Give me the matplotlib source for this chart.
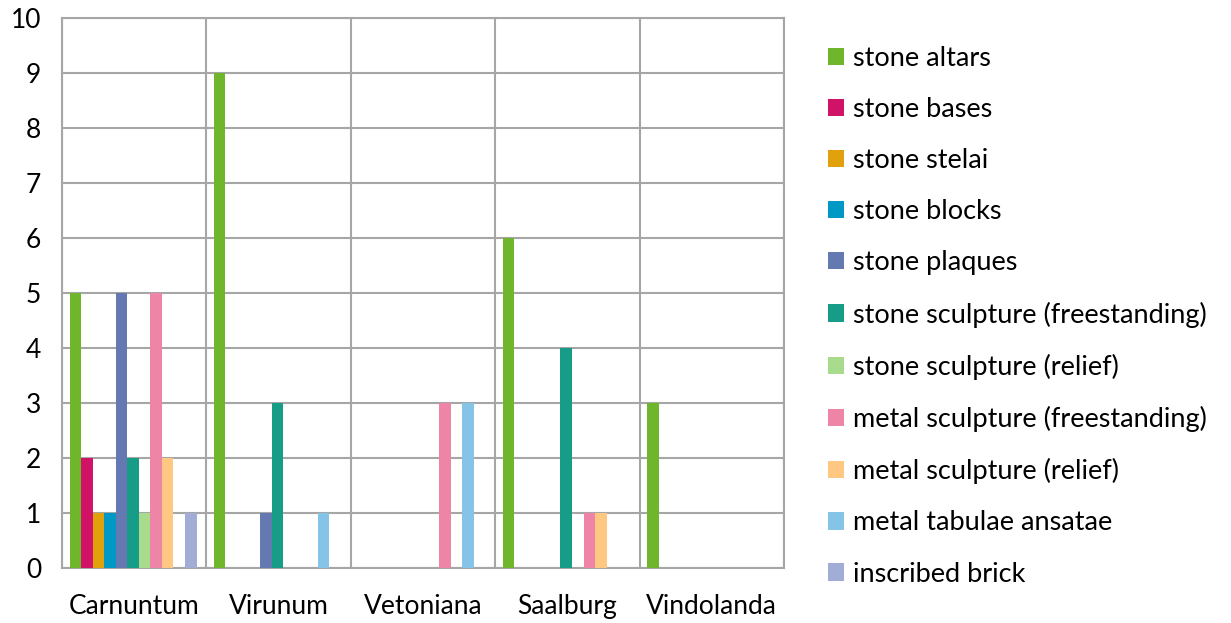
import matplotlib
matplotlib.use("Agg")
import matplotlib.pyplot as plt
import numpy as np

plt.rcParams['font.family'] = ['Lato', 'DejaVu Sans']

sites = ["Carnuntum", "Virunum", "Vetoniana", "Saalburg", "Vindolanda"]
series_names = [
    "stone altars", "stone bases", "stone stelai", "stone blocks", "stone plaques",
    "stone sculpture (freestanding)", "stone sculpture (relief)",
    "metal sculpture (freestanding)", "metal sculpture (relief)",
    "metal tabulae ansatae", "inscribed brick",
]
stone_altars = [5, 9, 0, 6, 3]
stone_bases = [2, 0, 0, 0, 0]
stone_stelai = [1, 0, 0, 0, 0]
stone_blocks = [1, 0, 0, 0, 0]
stone_plaques = [5, 1, 0, 0, 0]
stone_sculpture_free = [2, 3, 0, 4, 0]
stone_sculpture_relief = [1, 0, 0, 0, 0]
metal_sculpture_free = [5, 0, 3, 1, 0]
metal_sculpture_relief = [2, 0, 0, 1, 0]
metal_tabulae = [0, 1, 3, 0, 0]
inscribed_brick = [1, 0, 0, 0, 0]
values = [stone_altars, stone_bases, stone_stelai, stone_blocks, stone_plaques,
          stone_sculpture_free, stone_sculpture_relief, metal_sculpture_free,
          metal_sculpture_relief, metal_tabulae, inscribed_brick]
colors = ["#70B62C", "#D01367", "#E0A10C", "#0099C6", "#6479B1", "#179C88",
          "#A9DB8C", "#EE84A6", "#FFC882", "#85C4E6", "#A1ADD6"]
y_ticks = list(range(0, 11))

fig = plt.figure(figsize=(12.31, 6.23), dpi=100)
ax = fig.add_axes([62/1231, 1-568/623, (784-62)/1231, (568-18)/623])

n = len(series_names)
bw = 0.08
x = np.arange(len(sites))
for i, (name, vals, c) in enumerate(zip(series_names, values, colors)):
    offs = (i - (n - 1) / 2) * bw - 0.008
    ax.bar(x + offs, vals, width=bw, color=c, label=name, zorder=3)

grid_c = "#A6A6A6"
ax.set_xlim(-0.5, len(sites) - 0.5)
ax.set_ylim(0, 10)
ax.set_yticks(y_ticks)
ax.set_xticks(x)
ax.set_xticklabels(sites)
for b in np.arange(len(sites) + 1) - 0.5:
    ax.axvline(b, color=grid_c, lw=1.5, zorder=1)
ax.yaxis.grid(True, color=grid_c, lw=1.5, zorder=1)
ax.set_axisbelow(True)
for s in ax.spines.values():
    s.set_color(grid_c)
    s.set_linewidth(1.5)
ax.tick_params(axis='both', length=0, labelsize=19, colors="#000000")
ax.tick_params(axis='x', pad=19)
ax.tick_params(axis='y', pad=15)

fig.legend(loc='upper left', bbox_to_anchor=(817/1231, 1-35/623), frameon=False,
           fontsize=19.5, handlelength=0.6, handleheight=0.6, handletextpad=0.32,
           labelspacing=0.965, borderaxespad=0)

fig.savefig("out.png", dpi=100)
